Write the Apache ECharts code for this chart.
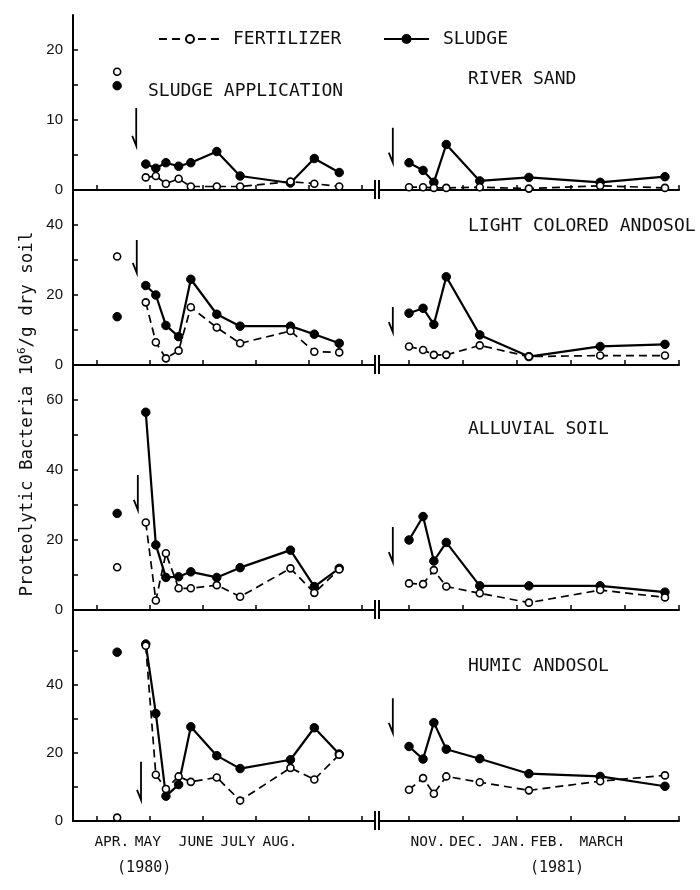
<!DOCTYPE html>
<html>
<head>
<meta charset="utf-8">
<script src="https://cdn.jsdelivr.net/npm/echarts@6/dist/echarts.min.js"></script>
<style>
html,body{margin:0;padding:0;background:#fff;}
#main{width:700px;height:890px;}
</style>
</head>
<body>
<div id="main"></div>
<script>
// ---------------- DATA ----------------
// x values are months (4 = 1 Apr 1980 ... 9 = 1 Sep 1980; 11 = 1 Nov 1980 ... 16 = 1 Apr 1981)
const panelNames = ['RIVER SAND', 'LIGHT COLORED ANDOSOL', 'ALLUVIAL SOIL', 'HUMIC ANDOSOL'];
const leftDates  = [4.92, 5.11, 5.30, 5.54, 5.77, 6.26, 6.70, 7.65, 8.10, 8.57];
const rightDates = [11.00, 11.26, 11.46, 11.69, 12.31, 13.22, 14.54, 15.74];
const preDate = 4.38;

// River sand
const sandFertPre = 16.9, sandSludgePre = 14.9;
const sandFertL   = [1.8, 2.0, 0.9, 1.6, 0.5, 0.5, 0.5, 1.2, 0.9, 0.5];
const sandSludgeL = [3.7, 3.1, 3.9, 3.4, 3.9, 5.5, 2.0, 1.0, 4.5, 2.5];
const sandFertR   = [0.4, 0.4, 0.3, 0.3, 0.4, 0.2, 0.6, 0.3];
const sandSludgeR = [3.9, 2.8, 1.1, 6.5, 1.3, 1.8, 1.1, 1.9];

// Light colored andosol
const lightFertPre = 31.0, lightSludgePre = 13.8;
const lightFertL   = [17.9, 6.5, 1.9, 4.1, 16.5, 10.7, 6.2, 9.7, 3.8, 3.6];
const lightSludgeL = [22.7, 20.0, 11.3, 8.1, 24.5, 14.5, 11.1, 11.1, 8.8, 6.2];
const lightFertR   = [5.3, 4.3, 2.9, 2.9, 5.6, 2.4, 2.7, 2.7];
const lightSludgeR = [14.8, 16.2, 11.6, 25.2, 8.6, 2.4, 5.3, 5.9];

// Alluvial soil
const alluFertPre = 12.2, alluSludgePre = 27.6;
const alluFertL   = [25.0, 2.7, 16.2, 6.2, 6.2, 7.1, 3.8, 11.9, 4.9, 11.6];
const alluSludgeL = [56.5, 18.6, 9.3, 9.5, 10.9, 9.3, 12.1, 17.1, 6.7, 11.9];
const alluFertR   = [7.6, 7.4, 11.4, 6.7, 4.8, 2.1, 5.7, 3.6];
const alluSludgeR = [20.0, 26.7, 14.0, 19.3, 6.9, 6.9, 6.9, 5.1];

// Humic andosol
const humicFertPre = 1.0, humicSludgePre = 49.6;
const humicFertL   = [51.5, 13.6, 9.4, 13.1, 11.5, 12.8, 6.0, 15.6, 12.2, 19.5];
const humicSludgeL = [52.0, 31.6, 7.3, 10.7, 27.7, 19.2, 15.4, 18.0, 27.4, 19.7];
const humicFertR   = [9.2, 12.6, 8.0, 13.1, 11.4, 9.0, 11.7, 13.4];
const humicSludgeR = [21.9, 18.2, 28.9, 21.1, 18.3, 13.9, 13.1, 10.2];

// sludge application arrows: [month, top value, bottom value]
const arrowsL = [[4.74, 11.7, 6.3], [4.75, 35.7, 26.3], [4.77, 38.6, 28.6], [4.83, 17.4, 6.2]];
const arrowsR = [[10.70, 8.9, 3.9], [10.70, 16.6, 9.4], [10.70, 23.7, 13.7], [10.70, 36.1, 25.9]];

// axes
const yMax    = [25, 50, 70, 62];
const yLabels = [[0, 10, 20], [0, 20, 40], [0, 20, 40, 60], [0, 20, 40]];
const yTicks  = [[0, 5, 10, 15, 20], [0, 10, 20, 30, 40], [0, 10, 20, 30, 40, 50, 60], [0, 10, 20, 30, 40, 50]];
const monthTicksL = [4, 5, 6, 7, 8, 9];
const monthTicksR = [11, 12, 13, 14, 15, 16];
const monthLabelsL = ['APR.', 'MAY', 'JUNE', 'JULY', 'AUG.'];
const monthLabelPosL = [4.28, 4.96, 5.87, 6.66, 7.45];
const monthLabelsR = ['NOV.', 'DEC.', 'JAN.', 'FEB.', 'MARCH'];
const monthLabelPosR = [11.35, 12.07, 12.85, 13.57, 14.56];
const yearLabels = ['(1980)', '(1981)'];
const yearLabelPos = [4.89, 13.74];

// ---------------- BUILD ----------------
const fertL = [sandFertL, lightFertL, alluFertL, humicFertL];
const sludL = [sandSludgeL, lightSludgeL, alluSludgeL, humicSludgeL];
const fertR = [sandFertR, lightFertR, alluFertR, humicFertR];
const sludR = [sandSludgeR, lightSludgeR, alluSludgeR, humicSludgeR];
const fertPre = [sandFertPre, lightFertPre, alluFertPre, humicFertPre];
const sludPre = [sandSludgePre, lightSludgePre, alluSludgePre, humicSludgePre];

const pairs = (xs, ys) => xs.map((x, i) => [x, ys[i]]);

const tops = [15, 190, 365, 610];
const heights = [175, 175, 245, 211];
const LEFT = 73, LW = 302, RIGHT = 379, RW = 300;
const MONO = '"DejaVu Sans Mono", "Liberation Mono", monospace';
const SANS = '"Liberation Sans", "DejaVu Sans", Arial, sans-serif';

const grid = [], xAxis = [], yAxis = [], series = [];
const openSym = { color: '#fff', borderColor: '#000', borderWidth: 1.6, opacity: 1 };
const fillSym = { color: '#000', borderColor: '#000', borderWidth: 1, opacity: 1 };

function arrowRender(params, api) {
  const top = api.coord([api.value(0), api.value(1)]);
  const bot = api.coord([api.value(0), api.value(2)]);
  return {
    type: 'polyline',
    shape: { points: [[top[0], top[1]], [bot[0], bot[1]], [bot[0] - 4, bot[1] - 10]] },
    style: { stroke: '#000', lineWidth: 1.8, fill: null }
  };
}

for (let p = 0; p < 4; p++) {
  const gl = grid.length;
  grid.push({ left: LEFT, width: LW, top: tops[p], height: heights[p] });
  grid.push({ left: RIGHT, width: RW, top: tops[p], height: heights[p] });
  const bottom = p === 3;
  xAxis.push({
    type: 'value', gridIndex: gl, min: 3.547, max: 9.245,
    axisLine: { show: true, onZero: false, lineStyle: { color: '#000', width: 2 } },
    axisTick: { show: true, inside: true, length: 5, customValues: monthTicksL, lineStyle: { color: '#000', width: 1.5 } },
    axisLabel: { show: bottom, customValues: monthLabelPosL, margin: 14,
      formatter: v => monthLabelsL[monthLabelPosL.indexOf(v)] || '',
      fontFamily: MONO, fontSize: 14.5, color: '#111' },
    splitLine: { show: false }
  });
  xAxis.push({
    type: 'value', gridIndex: gl + 1, min: 10.444, max: 16.0,
    axisLine: { show: true, onZero: false, lineStyle: { color: '#000', width: 2 } },
    axisTick: { show: true, inside: true, length: 5, customValues: monthTicksR, lineStyle: { color: '#000', width: 1.5 } },
    axisLabel: { show: bottom, customValues: monthLabelPosR, margin: 14,
      formatter: v => monthLabelsR[monthLabelPosR.indexOf(v)] || '',
      fontFamily: MONO, fontSize: 14.5, color: '#111' },
    splitLine: { show: false }
  });
  yAxis.push({
    type: 'value', gridIndex: gl, min: 0, max: yMax[p],
    axisLine: { show: true, lineStyle: { color: '#000', width: 2 } },
    axisTick: { show: true, inside: true, length: 5, customValues: yTicks[p], lineStyle: { color: '#000', width: 1.5 } },
    axisLabel: { customValues: yLabels[p], margin: 10, fontFamily: SANS, fontSize: 15, color: '#111' },
    splitLine: { show: false }
  });
  yAxis.push({ type: 'value', gridIndex: gl + 1, min: 0, max: yMax[p], show: false, splitLine: { show: false } });

  const xi = xAxis.length - 2, yi = yAxis.length - 2;
  const common = { type: 'line', symbol: 'circle', animation: false, z: 3 };
  series.push(Object.assign({}, common, { name: 'SLUDGE', xAxisIndex: xi, yAxisIndex: yi,
    data: pairs(leftDates, sludL[p]), symbolSize: 8.5, lineStyle: { color: '#000', width: 2.2 }, itemStyle: fillSym }));
  series.push(Object.assign({}, common, { name: 'SLUDGE', xAxisIndex: xi + 1, yAxisIndex: yi + 1,
    data: pairs(rightDates, sludR[p]), symbolSize: 8.5, lineStyle: { color: '#000', width: 2.2 }, itemStyle: fillSym }));
  series.push(Object.assign({}, common, { name: 'FERTILIZER', xAxisIndex: xi, yAxisIndex: yi, z: 4,
    data: pairs(leftDates, fertL[p]), symbolSize: 7, lineStyle: { color: '#000', width: 1.7, type: [8, 5] }, itemStyle: openSym }));
  series.push(Object.assign({}, common, { name: 'FERTILIZER', xAxisIndex: xi + 1, yAxisIndex: yi + 1, z: 4,
    data: pairs(rightDates, fertR[p]), symbolSize: 7, lineStyle: { color: '#000', width: 1.7, type: [8, 5] }, itemStyle: openSym }));
  series.push({ type: 'scatter', name: 'pre-sludge', xAxisIndex: xi, yAxisIndex: yi, animation: false,
    data: [[preDate, sludPre[p]]], symbol: 'circle', symbolSize: 8.5, itemStyle: fillSym });
  series.push({ type: 'scatter', name: 'pre-fert', xAxisIndex: xi, yAxisIndex: yi, animation: false,
    data: [[preDate, fertPre[p]]], symbol: 'circle', symbolSize: 7, itemStyle: openSym });
  series.push({ type: 'custom', name: 'arrow', xAxisIndex: xi, yAxisIndex: yi, animation: false, silent: true,
    renderItem: arrowRender, data: [arrowsL[p]] });
  series.push({ type: 'custom', name: 'arrow', xAxisIndex: xi + 1, yAxisIndex: yi + 1, animation: false, silent: true,
    renderItem: arrowRender, data: [arrowsR[p]] });
}

xAxis.push({ type: 'value', gridIndex: 6, min: 3.547, max: 9.245, position: 'bottom',
  axisLine: { show: false }, axisTick: { show: false }, splitLine: { show: false },
  axisLabel: { customValues: [yearLabelPos[0]], margin: 40, formatter: () => yearLabels[0], fontFamily: MONO, fontSize: 15, color: '#111' } });
xAxis.push({ type: 'value', gridIndex: 7, min: 10.444, max: 16.0, position: 'bottom',
  axisLine: { show: false }, axisTick: { show: false }, splitLine: { show: false },
  axisLabel: { customValues: [yearLabelPos[1]], margin: 40, formatter: () => yearLabels[1], fontFamily: MONO, fontSize: 15, color: '#111' } });

const graphic = [];
const titlePos = [[468, 80], [468, 227], [468, 430], [468, 667]];
panelNames.forEach((t, i) => graphic.push({ type: 'text', left: titlePos[i][0], top: titlePos[i][1] - 10,
  style: { text: t, font: '18px ' + MONO, fill: '#111' } }));
graphic.push({ type: 'text', left: 148, top: 82, style: { text: 'SLUDGE APPLICATION', font: '18px ' + MONO, fill: '#111' } });
for (let p = 0; p < 4; p++) {
  const yb = tops[p] + heights[p];
  [LEFT + LW, RIGHT].forEach(x => graphic.push({ type: 'line', shape: { x1: x, y1: yb - 10, x2: x, y2: yb + 9 },
    style: { stroke: '#000', lineWidth: 2 } }));
}
graphic.push({ type: 'text', x: 27, y: 414, rotation: Math.PI / 2,
  style: { text: '{n|Proteolytic Bacteria 10}{s|6}{n|/g dry soil}', align: 'center', verticalAlign: 'middle',
    rich: { n: { fontFamily: MONO, fontSize: 17.5, lineHeight: 20, fill: '#111' }, s: { fontFamily: MONO, fontSize: 11, lineHeight: 20, verticalAlign: 'top', fill: '#111' } } } });

const chart = echarts.init(document.getElementById('main'));
chart.setOption({
  animation: false,
  backgroundColor: '#fff',
  grid, xAxis, yAxis, series, graphic,
  legend: [
    { data: ['FERTILIZER'], left: 153, top: 25, itemWidth: 62, itemHeight: 10, selectedMode: false,
      textStyle: { fontFamily: MONO, fontSize: 18, color: '#111', padding: [0, 0, 0, 7] } },
    { data: ['SLUDGE'], left: 378, top: 25, itemWidth: 45, itemHeight: 10, selectedMode: false,
      textStyle: { fontFamily: MONO, fontSize: 18, color: '#111', padding: [0, 0, 0, 9] } }
  ]
});
</script>
</body>
</html>
